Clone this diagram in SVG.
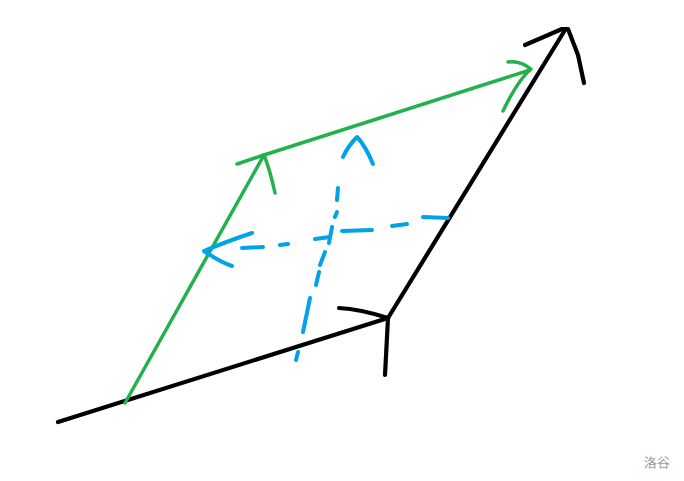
<svg xmlns="http://www.w3.org/2000/svg" width="684" height="481" viewBox="0 0 684 481">
<style>
.k{fill:none;stroke:#000;stroke-width:4.2;stroke-linecap:round;stroke-linejoin:round}
.g{fill:none;stroke:#22b14c;stroke-width:3.5;stroke-linecap:round;stroke-linejoin:round}
.b{fill:none;stroke:#00a2e8;stroke-width:4;stroke-linecap:round;stroke-linejoin:round}
.wm{font-family:"Noto Sans CJK SC","Liberation Sans",sans-serif;font-size:13px;fill:#999}
</style>
<rect width="684" height="481" fill="#fff"/>
<g id="black-vectors">
<path class="k" d="M58,422 L388,318"/>
<path class="k" d="M339,308 Q360,309 388,318 L385,375"/>
<path class="k" d="M388,318 L565,30"/>
<path class="k" d="M525,45 L562,29 L568,29 L578,55 L584,83"/>
</g>
<g id="green-vectors">
<path class="g" d="M125,403 L264,155"/>
<path class="g" d="M237,164 L264,155 Q270,170 275,193"/>
<path class="g" d="M264,155 L530,70"/>
<path class="g" d="M508,62 Q520,60 531,69 Q518,80 503,111"/>
</g>
<g id="blue-vectors">
<path class="b" d="M423,217 L448,218 M392,226 L407,224 M342,231 L372,230 M315,239 L330,237 M280,245 L288,244 M242,248 L263,247"/>
<path class="b" d="M252,233 Q225,242 204,251 Q220,262 232,266"/>
<path class="b" d="M338,188 L337,200 M337,212 L335,217 M332,227 L329,243 M325,252 L320,265 M319,272 L316,285 M310,298 L303,332 M298,352 L296,360"/>
<path class="b" d="M343,157 Q348,146 357,137 Q365,145 373,164"/>
</g>
<text class="wm" x="644" y="467">洛谷</text>
</svg>
